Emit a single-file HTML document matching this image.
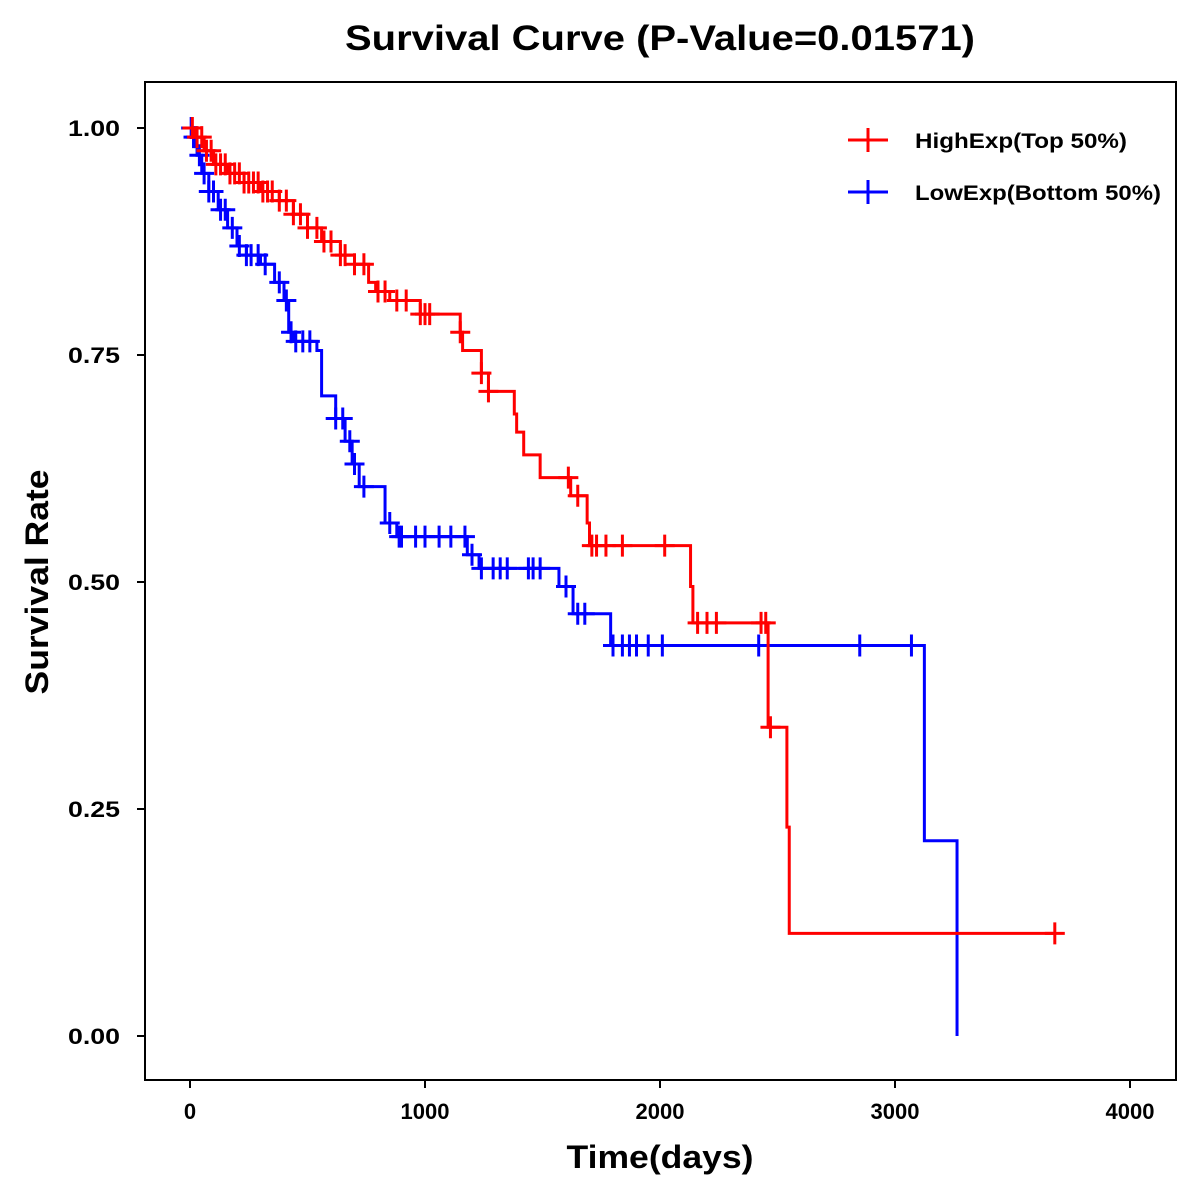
<!DOCTYPE html>
<html><head><meta charset="utf-8">
<style>
html,body{margin:0;padding:0;background:#fff;}
svg{display:block;font-family:"Liberation Sans",Arial,sans-serif;font-weight:bold;}
</style></head>
<body>
<svg id="chart" width="1200" height="1200" xmlns="http://www.w3.org/2000/svg">
<text x="660" y="50" text-anchor="middle" font-size="35" textLength="630" lengthAdjust="spacingAndGlyphs">Survival Curve (P-Value=0.01571)</text>
<rect x="145" y="82" width="1031" height="998" fill="none" stroke="#000" stroke-width="2"/>
<g id="axes"></g>
<g id="series"></g>
<text x="660" y="1168" text-anchor="middle" font-size="32" textLength="187" lengthAdjust="spacingAndGlyphs">Time(days)</text>
<text transform="translate(48,582) rotate(-90)" text-anchor="middle" font-size="32" textLength="225" lengthAdjust="spacingAndGlyphs">Survival Rate</text>
<g>
<g>
<line x1="848" y1="140" x2="888" y2="140" stroke="#f00" stroke-width="3"/><line x1="868" y1="128" x2="868" y2="152" stroke="#f00" stroke-width="3"/>
<text x="915" y="148" font-size="21" textLength="212" lengthAdjust="spacingAndGlyphs">HighExp(Top 50%)</text></g>
<g>
<line x1="848" y1="192" x2="888" y2="192" stroke="#00f" stroke-width="3"/><line x1="868" y1="180" x2="868" y2="204" stroke="#00f" stroke-width="3"/>
<text x="915" y="200" font-size="21" textLength="246" lengthAdjust="spacingAndGlyphs">LowExp(Bottom 50%)</text></g>
</g>
</svg>
<script>
const xTicks=[0,1000,2000,3000,4000];
const yTicks=[0,0.25,0.5,0.75,1.0];
const yTickLabels=["0.00","0.25","0.50","0.75","1.00"];
const highTimes=[20,60,100,160,230,300,380,440,500,560,640,700,760,790,850,980,1150,1160,1240,1270,1380,1390,1420,1490,1620,1690,1700,2130,2140,2460,2540,2550];
const highSurv=[0.99,0.975,0.96,0.95,0.94,0.93,0.92,0.905,0.89,0.875,0.86,0.85,0.83,0.82,0.81,0.795,0.775,0.755,0.73,0.71,0.685,0.665,0.64,0.615,0.595,0.565,0.54,0.495,0.455,0.34,0.23,0.113];
const highCensor=[10,30,50,70,90,110,130,150,170,190,210,230,250,270,290,310,330,350,380,410,440,470,500,540,570,600,640,660,700,740,800,830,880,920,980,1000,1020,1150,1240,1270,1610,1650,1710,1730,1770,1840,2020,2160,2200,2240,2430,2450,2470,3680];
const lowTimes=[10,30,50,80,120,160,200,240,300,360,400,420,440,540,560,620,660,690,720,830,880,1180,1230,1570,1630,1790,3125,3264];
const lowSurv=[0.99,0.97,0.95,0.93,0.91,0.89,0.87,0.86,0.85,0.83,0.81,0.775,0.765,0.755,0.705,0.68,0.655,0.63,0.605,0.565,0.55,0.53,0.515,0.495,0.465,0.43,0.215,0.0];
const lowCensor=[5,15,25,40,60,80,100,130,150,180,210,240,260,290,320,380,410,430,450,480,510,620,650,680,700,740,850,890,900,960,1000,1060,1110,1170,1200,1240,1290,1320,1350,1440,1460,1490,1600,1650,1680,1800,1840,1870,1900,1950,2010,2420,2850,3070];
const X=t=>190+t*0.235, Y=s=>1036-s*908;
const NS="http://www.w3.org/2000/svg";
function mk(tag,attrs,parent){const e=document.createElementNS(NS,tag);for(const k in attrs)e.setAttribute(k,attrs[k]);parent.appendChild(e);return e;}
const axes=document.getElementById('axes');
xTicks.forEach(t=>{
 const l=mk('line',{x1:X(t),x2:X(t),y1:1080,y2:1088,stroke:'#000','stroke-width':2},axes);
 
 
 const tx=mk('text',{x:X(t),y:1119,'text-anchor':'middle','font-size':22},axes);tx.textContent=t;
 
 
});
yTicks.forEach((v,i)=>{
 const l=mk('line',{x1:137,x2:145,y1:Y(v),y2:Y(v),stroke:'#000','stroke-width':2},axes);
 
 
 const tx=mk('text',{x:120,y:Y(v)+8,'text-anchor':'end','font-size':22,textLength:52,lengthAdjust:'spacingAndGlyphs'},axes);tx.textContent=yTickLabels[i];
 
 
});
function survAt(times,surv,t){let s=1;for(let i=0;i<times.length;i++){if(times[i]<=t)s=surv[i];}return s;}
function draw(times,surv,cens,color,name){
 const g=mk('g',{},document.getElementById('series'));
 
 
 const maxT=Math.max(times[times.length-1],cens[cens.length-1]);
 let d='M'+X(0)+','+Y(1);let s=1;
 for(let i=0;i<times.length;i++){d+=' H'+X(times[i])+' V'+Y(surv[i]);s=surv[i];}
 if(s>0)d+=' H'+X(maxT);
 const p=mk('path',{d:d,fill:'none',stroke:color,'stroke-width':3},g);
 
 
 cens.forEach(t=>{
  const s=survAt(times,surv,t),cx=X(t),cy=Y(s);
  const c=mk('path',{d:`M${cx-10},${cy}H${cx+10}M${cx},${cy-11}V${cy+11}`,stroke:color,'stroke-width':3,fill:'none'},g);
  
  
 });
}
draw(lowTimes,lowSurv,lowCensor,'#00f','low-exp-curve');
draw(highTimes,highSurv,highCensor,'#f00','high-exp-curve');
</script>
</body></html>
